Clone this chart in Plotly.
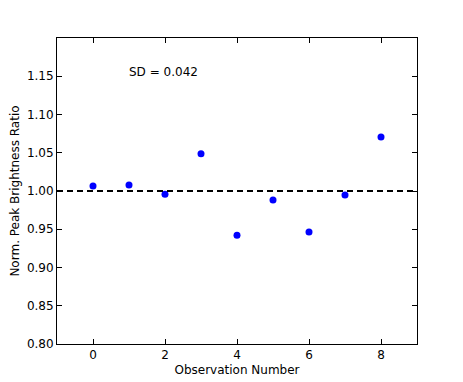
import plotly.graph_objects as go

# observation index and normalised peak brightness ratio
obs = [0, 1, 2, 3, 4, 5, 6, 7, 8]
ratio = [1.0065, 1.008, 0.9957, 1.0487, 0.9422, 0.9883, 0.9465, 0.9948, 1.0705]
x_ticks = [0, 2, 4, 6, 8]
y_ticks = [0.80, 0.85, 0.90, 0.95, 1.00, 1.05, 1.10, 1.15]
sd_text = "SD = 0.042"

fig = go.Figure()
fig.add_trace(go.Scatter(
    x=obs, y=ratio, mode="markers",
    marker=dict(color="#0000ff", size=7, line=dict(width=0)),
    showlegend=False,
))

# reference line at ratio = 1
fig.add_shape(type="line", xref="paper", yref="y", x0=0, x1=1, y0=1.0, y1=1.0,
              line=dict(color="black", width=2, dash="6px,4px"))

fig.add_annotation(x=1, y=1.15, xref="x", yref="y", text=sd_text, showarrow=False,
                   xanchor="left", yanchor="bottom", yshift=-5, xshift=-2,
                   font=dict(size=12, color="black"))

axis_common = dict(
    showline=True, linecolor="black", linewidth=1, mirror="ticks",
    ticks="inside", ticklen=5, tickcolor="black", tickwidth=1,
    showgrid=False, zeroline=False, automargin=False,
    tickfont=dict(size=12, color="black"),
)

fig.update_xaxes(range=[-1, 9], tickvals=x_ticks, ticktext=[str(v) for v in x_ticks],
                 title=dict(text="Observation Number", font=dict(size=12, color="black"), standoff=4),
                 **axis_common)
fig.update_yaxes(range=[0.80, 1.20], tickvals=y_ticks, ticktext=[f"{v:.2f}" for v in y_ticks],
                 title=dict(text="Norm. Peak Brightness Ratio", font=dict(size=12, color="black"), standoff=7),
                 **axis_common)

# page body has an 8px margin, so the figure is a bit smaller than the window
fig.update_layout(
    width=455, height=374,
    margin=dict(l=49, r=46, t=30, b=38),
    plot_bgcolor="white", paper_bgcolor="white",
    font=dict(family="DejaVu Sans", color="black"),
)

fig.write_html("out.html")
